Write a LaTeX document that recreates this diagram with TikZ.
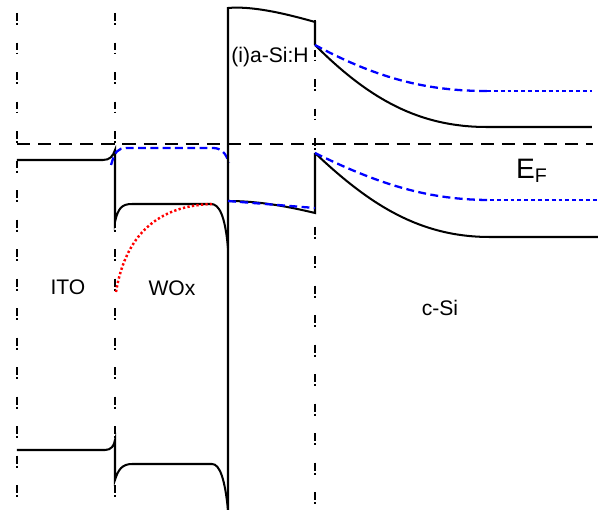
\documentclass[tikz,border=0pt]{standalone}
\usepackage{fontspec}
\setmainfont{Liberation Sans}
\begin{document}
\begin{tikzpicture}[x=0.02cm, y=-0.02cm]
    \useasboundingbox (0,0) rectangle (600,510);
    \tikzset{
        band/.style={line width=1.15pt, black},
        bandblue/.style={line width=1.3pt, blue, dash pattern=on 4.5pt off 2.5pt},
        bandfine/.style={line width=1.1pt, blue, dash pattern=on 2.2pt off 1.7pt},
        fermi/.style={line width=1.6pt, black, dash pattern=on 7.5pt off 4.5pt},
        border/.style={line width=0.8pt, black, dash pattern=on 4.5pt off 1.2pt on 1.1pt off 10pt},
        label/.style={font=\fontsize{12}{14}\selectfont, inner sep=0pt}
    }

    % 定義界面位置
    \coordinate (B1t) at (17,13);   \coordinate (B1b) at (17,500);
    \coordinate (B2t) at (115,13);  \coordinate (B2b) at (115,510);
    \coordinate (B3t) at (315,20);  \coordinate (B3b) at (315,510);
    \coordinate (EFl) at (17,144);  \coordinate (EFr) at (593,144);

    % 畫出界面
    \draw[border] (B1t) -- (B1b);
    \draw[border] (B2t) -- (B2b);
    \draw[border] (B3t) -- (B3b);

    % 費米能級
    \draw[fermi] (EFl) -- (EFr);

    % ITO / WOx 上方的帶
    \draw[band] (17,160) -- (103,160) .. controls (110,160) and (113,156) .. (115,150)
        -- (115,222) .. controls (118,208) and (122,204) .. (132,204)
        -- (211,204) .. controls (219,204) and (225,215) .. (228,248);
    \draw[bandblue] (111,165) .. controls (115,152) and (117,148) .. (127,148)
        -- (213,148) .. controls (221,148) and (226,153) .. (229,163);
    \draw[red, line width=1.4pt, dash pattern=on 1.3pt off 1.3pt]
        (116,292) .. controls (123,250) and (145,206) .. (212,204);

    % (i)a-Si:H 勢壘
    \draw[band] (228,510) -- (228,8) .. controls (250,6) and (280,12) .. (315,22) -- (315,45);
    \draw[band] (228,201) .. controls (260,201) and (290,207) .. (315,213) -- (315,153);
    \draw[bandblue] (228,201) -- (315,208);

    % c-Si 的帶
    \draw[band] (315,45) .. controls (370,100) and (420,127) .. (487,127) -- (592,127);
    \draw[bandblue] (315,45) .. controls (380,80) and (430,91) .. (487,91);
    \draw[bandfine] (487,91) -- (592,91);
    \draw[band] (315,153) .. controls (370,205) and (420,237) .. (490,237) -- (598,237);
    \draw[bandblue] (315,153) .. controls (380,185) and (430,200) .. (490,200);
    \draw[bandfine] (490,200) -- (597,200);

    % 下方的帶
    \draw[band] (17,450) -- (105,450) .. controls (111,450) and (114,446) .. (115,440)
        -- (115,480) .. controls (118,470) and (122,464) .. (132,464)
        -- (212,464) .. controls (220,464) and (225,480) .. (228,510);

    % 標籤
    \node[label] (ito) at (68,287) {ITO};
    \node[label] (wox) at (172,288) {WOx};
    \node[label] (csi) at (440,308) {c-Si};
    \node[label] (asi) at (270,57) {(i)a-Si:H};
    \node[font=\fontsize{16}{18}\selectfont, inner sep=0pt] (ef) at (532,171) {E\textsubscript{F}};
\end{tikzpicture}
\end{document}
